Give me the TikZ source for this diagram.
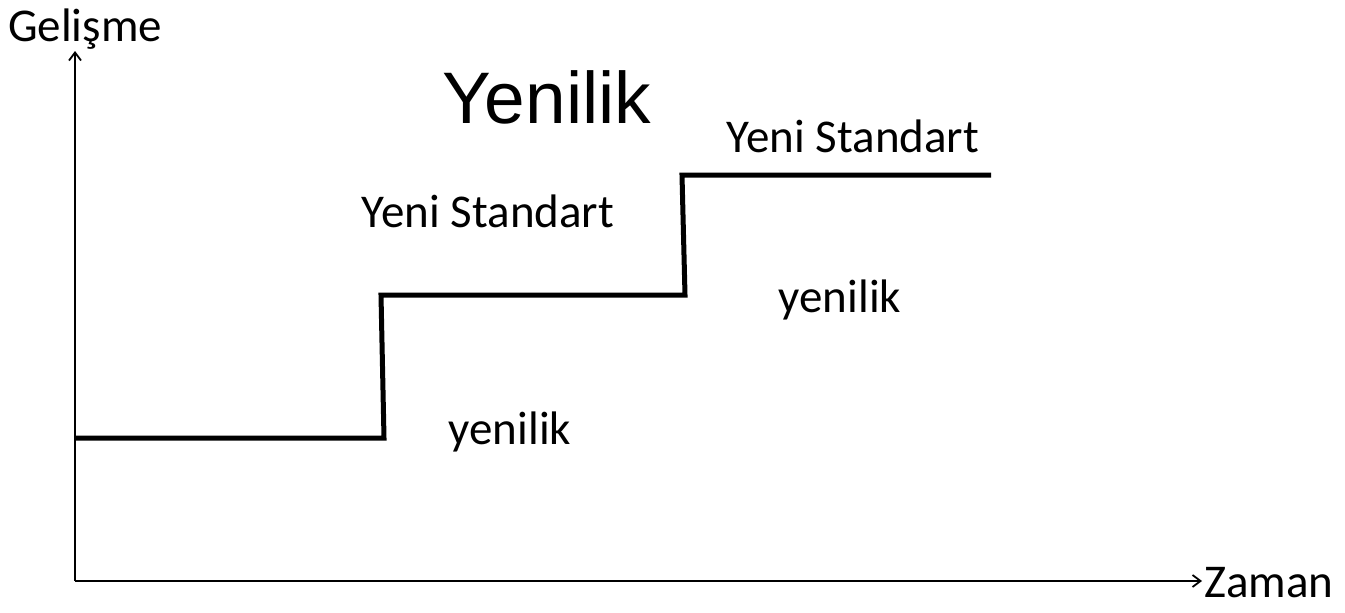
\documentclass[tikz,border=0pt]{standalone}
\usepackage{fontspec}
\setmainfont{Carlito}
\newfontfamily\headfont{Liberation Sans}
\usetikzlibrary{arrows.meta}
\begin{document}
\begin{tikzpicture}[x=1pt,y=-1pt,
  axis/.style={line width=2.4pt,-{Straight Barb[length=8pt,width=12pt,line width=1.8pt]}},
  stairs/.style={line width=5pt,line join=miter},
  lbl/.style={inner sep=0pt,font=\fontsize{47}{52}\selectfont},
  title/.style={inner sep=0pt,font=\headfont\fontsize{73}{82}\selectfont}]
\useasboundingbox (0,0) rectangle (1345,613);
\coordinate (o) at (75,581);
\coordinate (ytip) at (75,51);
\coordinate (xtip) at (1202,581);
\draw[axis] (o) -- (ytip);
\draw[axis] (o) -- (xtip);
\node[lbl,anchor=south] (gel) at (85,50) {Gelişme};
\node[lbl,anchor=west] (zam) at (1204,583) {Zaman};
% staircase of standards
\coordinate (s0) at (75,438);
\coordinate (s1) at (384,438);
\coordinate (s2) at (381,295);
\coordinate (s3) at (685,295);
\coordinate (s4) at (682,175);
\coordinate (s5) at (991,175);
\draw[stairs] (s0) -- (s1) -- (s2) -- (s3) -- (s4) -- (s5);
\node[title] (yen) at (547,97) {Yenilik};
\node[lbl] (std2) at (853,136) {Yeni Standart};
\node[lbl] (std1) at (488,211) {Yeni Standart};
\node[lbl] (inn2) at (840,300) {yenilik};
\node[lbl] (inn1) at (510,432) {yenilik};
\end{tikzpicture}
\end{document}
